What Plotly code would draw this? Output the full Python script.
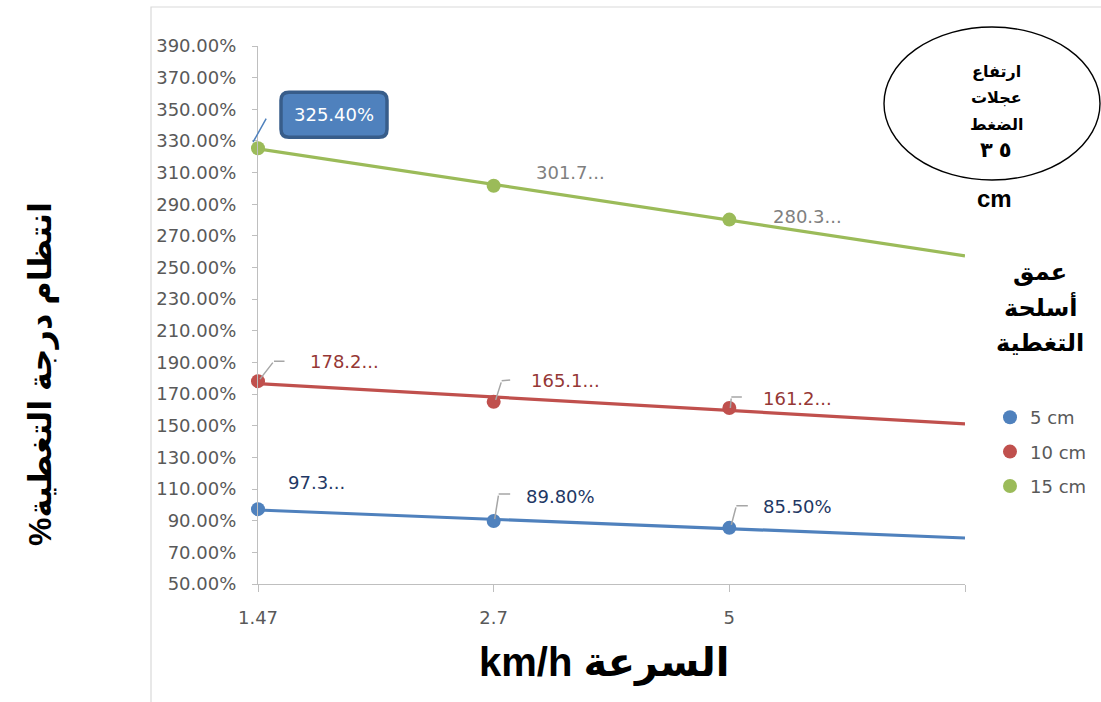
import numpy as np
import plotly.graph_objects as go

# ---- data -------------------------------------------------------------
speeds = ["1.47", "2.7", "5"]                 # km/h categories
depth_names = ["5 cm", "10 cm", "15 cm"]
cover_5cm = [97.30, 89.80, 85.50]              # %
cover_10cm = [178.20, 165.10, 161.20]
cover_15cm = [325.40, 301.70, 280.30]
# labels that the chart shortens with an ellipsis
shortened_5cm = [True, False, False]
shortened_10cm = [True, True, True]
shortened_15cm = [False, True, True]

series = [cover_5cm, cover_10cm, cover_15cm]
shortened = [shortened_5cm, shortened_10cm, shortened_15cm]

# ---- styling ----------------------------------------------------------
colors = ["#4F81BD", "#C0504D", "#9BBB59"]
label_colors = ["#1F3864", "#953735", "#7F7F7F"]
NUM_FONT = "DejaVu Sans"
AR_FONT = "Liberation Sans, DejaVu Sans, sans-serif"

W, H = 1101, 702
PL, PR, PT, PB = 258, 965, 46, 584           # plot-area edges in pixels


def fx(px):
    return (px - PL) / (PR - PL)


def fy(py):
    return (PB - py) / (PB - PT)


def label_text(v, short):
    s = f"{v:.2f}%"
    return s[:-2] + "..." if short else s


# label offsets (pixels from the point) and leader polylines
label_shift = [
    [(58, 27), (67, 25), (68, 21)],
    [(86, 20), (72, 21), (68, 10)],
    [(76, 34), (77, 13), (78, 3)],
]
leaders = [
    [None, [(1, 2), (5, 27), (18, 27)], [(2, 3), (7, 22), (20, 22)]],
    [[(2, 2), (16, 20), (28, 20)], [(2, 2), (8, 21), (18, 22)], [(1, 0), (2, 11), (14, 11)]],
    [[(-5, 6), (9, 31)], None, None],
]

fig = go.Figure()
xi = np.arange(len(speeds))
xt = np.arange(len(speeds) + 1)

# linear trendlines, extended one category forward
for k, vals in enumerate(series):
    slope, icpt = np.polyfit(xi, vals, 1)
    fig.add_trace(go.Scatter(
        x=xt, y=slope * xt + icpt, mode="lines",
        line=dict(color=colors[k], width=3.2),
        showlegend=False, hoverinfo="skip", cliponaxis=False))

for k, vals in enumerate(series):
    fig.add_trace(go.Scatter(
        x=xi, y=vals, mode="markers", name=depth_names[k],
        legendgroup=depth_names[k], cliponaxis=False,
        marker=dict(color=colors[k], size=14, line=dict(width=0))))

annotations = []
shapes = []

for k, vals in enumerate(series):
    for i, v in enumerate(vals):
        dx, dy = label_shift[k][i]
        boxed = (k == 2 and i == 0)
        annotations.append(dict(
            x=i, y=v, xref="x", yref="y", xshift=dx, yshift=dy,
            text=label_text(v, shortened[k][i]), showarrow=False,
            xanchor="center", yanchor="middle",
            font=dict(family=NUM_FONT, size=18,
                      color="white" if boxed else label_colors[k])))
        pts = leaders[k][i]
        if pts:
            # each leader segment is an arrowless annotation line
            lcol = "#4F81BD" if boxed else "#A6A6A6"
            for (a, b), (c, d) in zip(pts[:-1], pts[1:]):
                annotations.append(dict(
                    x=i, y=v, xref="x", yref="y", xshift=a, yshift=b,
                    ax=c - a, ay=-(d - b), axref="pixel", ayref="pixel",
                    text="", showarrow=True, arrowhead=0, arrowwidth=1.5,
                    arrowcolor=lcol, standoff=0, startstandoff=0))
        if boxed:
            x0, x1, y0, y1, r = 23, 129, 11, 56, 8
            box = (f"M {x0+r},{y0} L {x1-r},{y0} Q {x1},{y0} {x1},{y0+r} "
                   f"L {x1},{y1-r} Q {x1},{y1} {x1-r},{y1} L {x0+r},{y1} "
                   f"Q {x0},{y1} {x0},{y1-r} L {x0},{y0+r} Q {x0},{y0} {x0+r},{y0} Z")
            shapes.append(dict(
                type="path", xref="x", yref="y",
                xsizemode="pixel", ysizemode="pixel", xanchor=i, yanchor=v,
                path=box, fillcolor="#4F81BD",
                line=dict(color="#385D8A", width=3.5), layer="below"))

# outer chart frame
shapes.append(dict(type="rect", xref="paper", yref="paper",
                   x0=fx(151), x1=fx(1120), y0=fy(7), y1=fy(720),
                   line=dict(color="#D9D9D9", width=1.2), fillcolor="rgba(0,0,0,0)",
                   layer="below"))
# ellipse note
shapes.append(dict(type="circle", xref="paper", yref="paper",
                   x0=fx(884), x1=fx(1100), y0=fy(180), y1=fy(27),
                   line=dict(color="black", width=1.4)))

# axis titles
annotations.append(dict(
    x=fx(604), y=fy(663), xref="paper", yref="paper", showarrow=False,
    text="\u202bالسرعة km/h\u202c", xanchor="center", yanchor="middle",
    font=dict(family=AR_FONT, size=40, color="black", weight="bold")))
annotations.append(dict(
    x=fx(40), y=fy(374), xref="paper", yref="paper", showarrow=False,
    text="\u202bانتظام درجة التغطية%\u202c", textangle=-90,
    xanchor="center", yanchor="middle",
    font=dict(family=AR_FONT, size=32, color="black", weight="bold")))

# ellipse text
for txt, py, sz in [("ارتفاع", 72, 16), ("عجلات", 98, 16), ("الضغط", 124, 16),
                    ("٣\u200e \u200e٥", 150, 21)]:
    annotations.append(dict(
        x=fx(996), y=fy(py), xref="paper", yref="paper", showarrow=False,
        text=txt, xanchor="center", yanchor="middle",
        font=dict(family=AR_FONT, size=sz, color="black", weight="bold")))
annotations.append(dict(
    x=fx(995), y=fy(198), xref="paper", yref="paper", showarrow=False,
    text="cm", xanchor="center", yanchor="middle",
    font=dict(family=AR_FONT, size=24, color="black", weight="bold")))

# legend heading
for txt, py in [("عمق", 272), ("أسلحة", 306), ("التغطية", 342)]:
    annotations.append(dict(
        x=fx(1040), y=fy(py), xref="paper", yref="paper", showarrow=False,
        text=txt, xanchor="center", yanchor="middle",
        font=dict(family=AR_FONT, size=24, color="black", weight="bold")))

fig.update_layout(
    width=W, height=H,
    margin=dict(l=PL, r=W - PR, t=PT, b=H - PB, autoexpand=False),
    paper_bgcolor="white", plot_bgcolor="white",
    showlegend=True,
    legend=dict(x=fx(990), y=fy(399), xanchor="left", yanchor="top",
                font=dict(family=NUM_FONT, size=18, color="#595959"),
                tracegroupgap=8, bgcolor="rgba(0,0,0,0)"),
    xaxis=dict(range=[0, 3], tickvals=list(xt),
               ticktext=speeds + [""], showgrid=False, zeroline=False,
               showline=True, linecolor="#BFBFBF", linewidth=1.2,
               ticks="outside", ticklen=7, tickcolor="#BFBFBF",
               ticklabelstandoff=10,
               tickfont=dict(family=NUM_FONT, size=18, color="#595959")),
    yaxis=dict(range=[50, 390], tick0=50, dtick=20, tickformat=".2f",
               ticksuffix="%", showgrid=False, zeroline=False,
               showline=True, linecolor="#BFBFBF", linewidth=1.2,
               ticks="outside", ticklen=5, tickcolor="#BFBFBF",
               ticklabelstandoff=12,
               tickfont=dict(family=NUM_FONT, size=18, color="#595959")),
    annotations=annotations, shapes=shapes,
)

fig.write_html("out.html")
